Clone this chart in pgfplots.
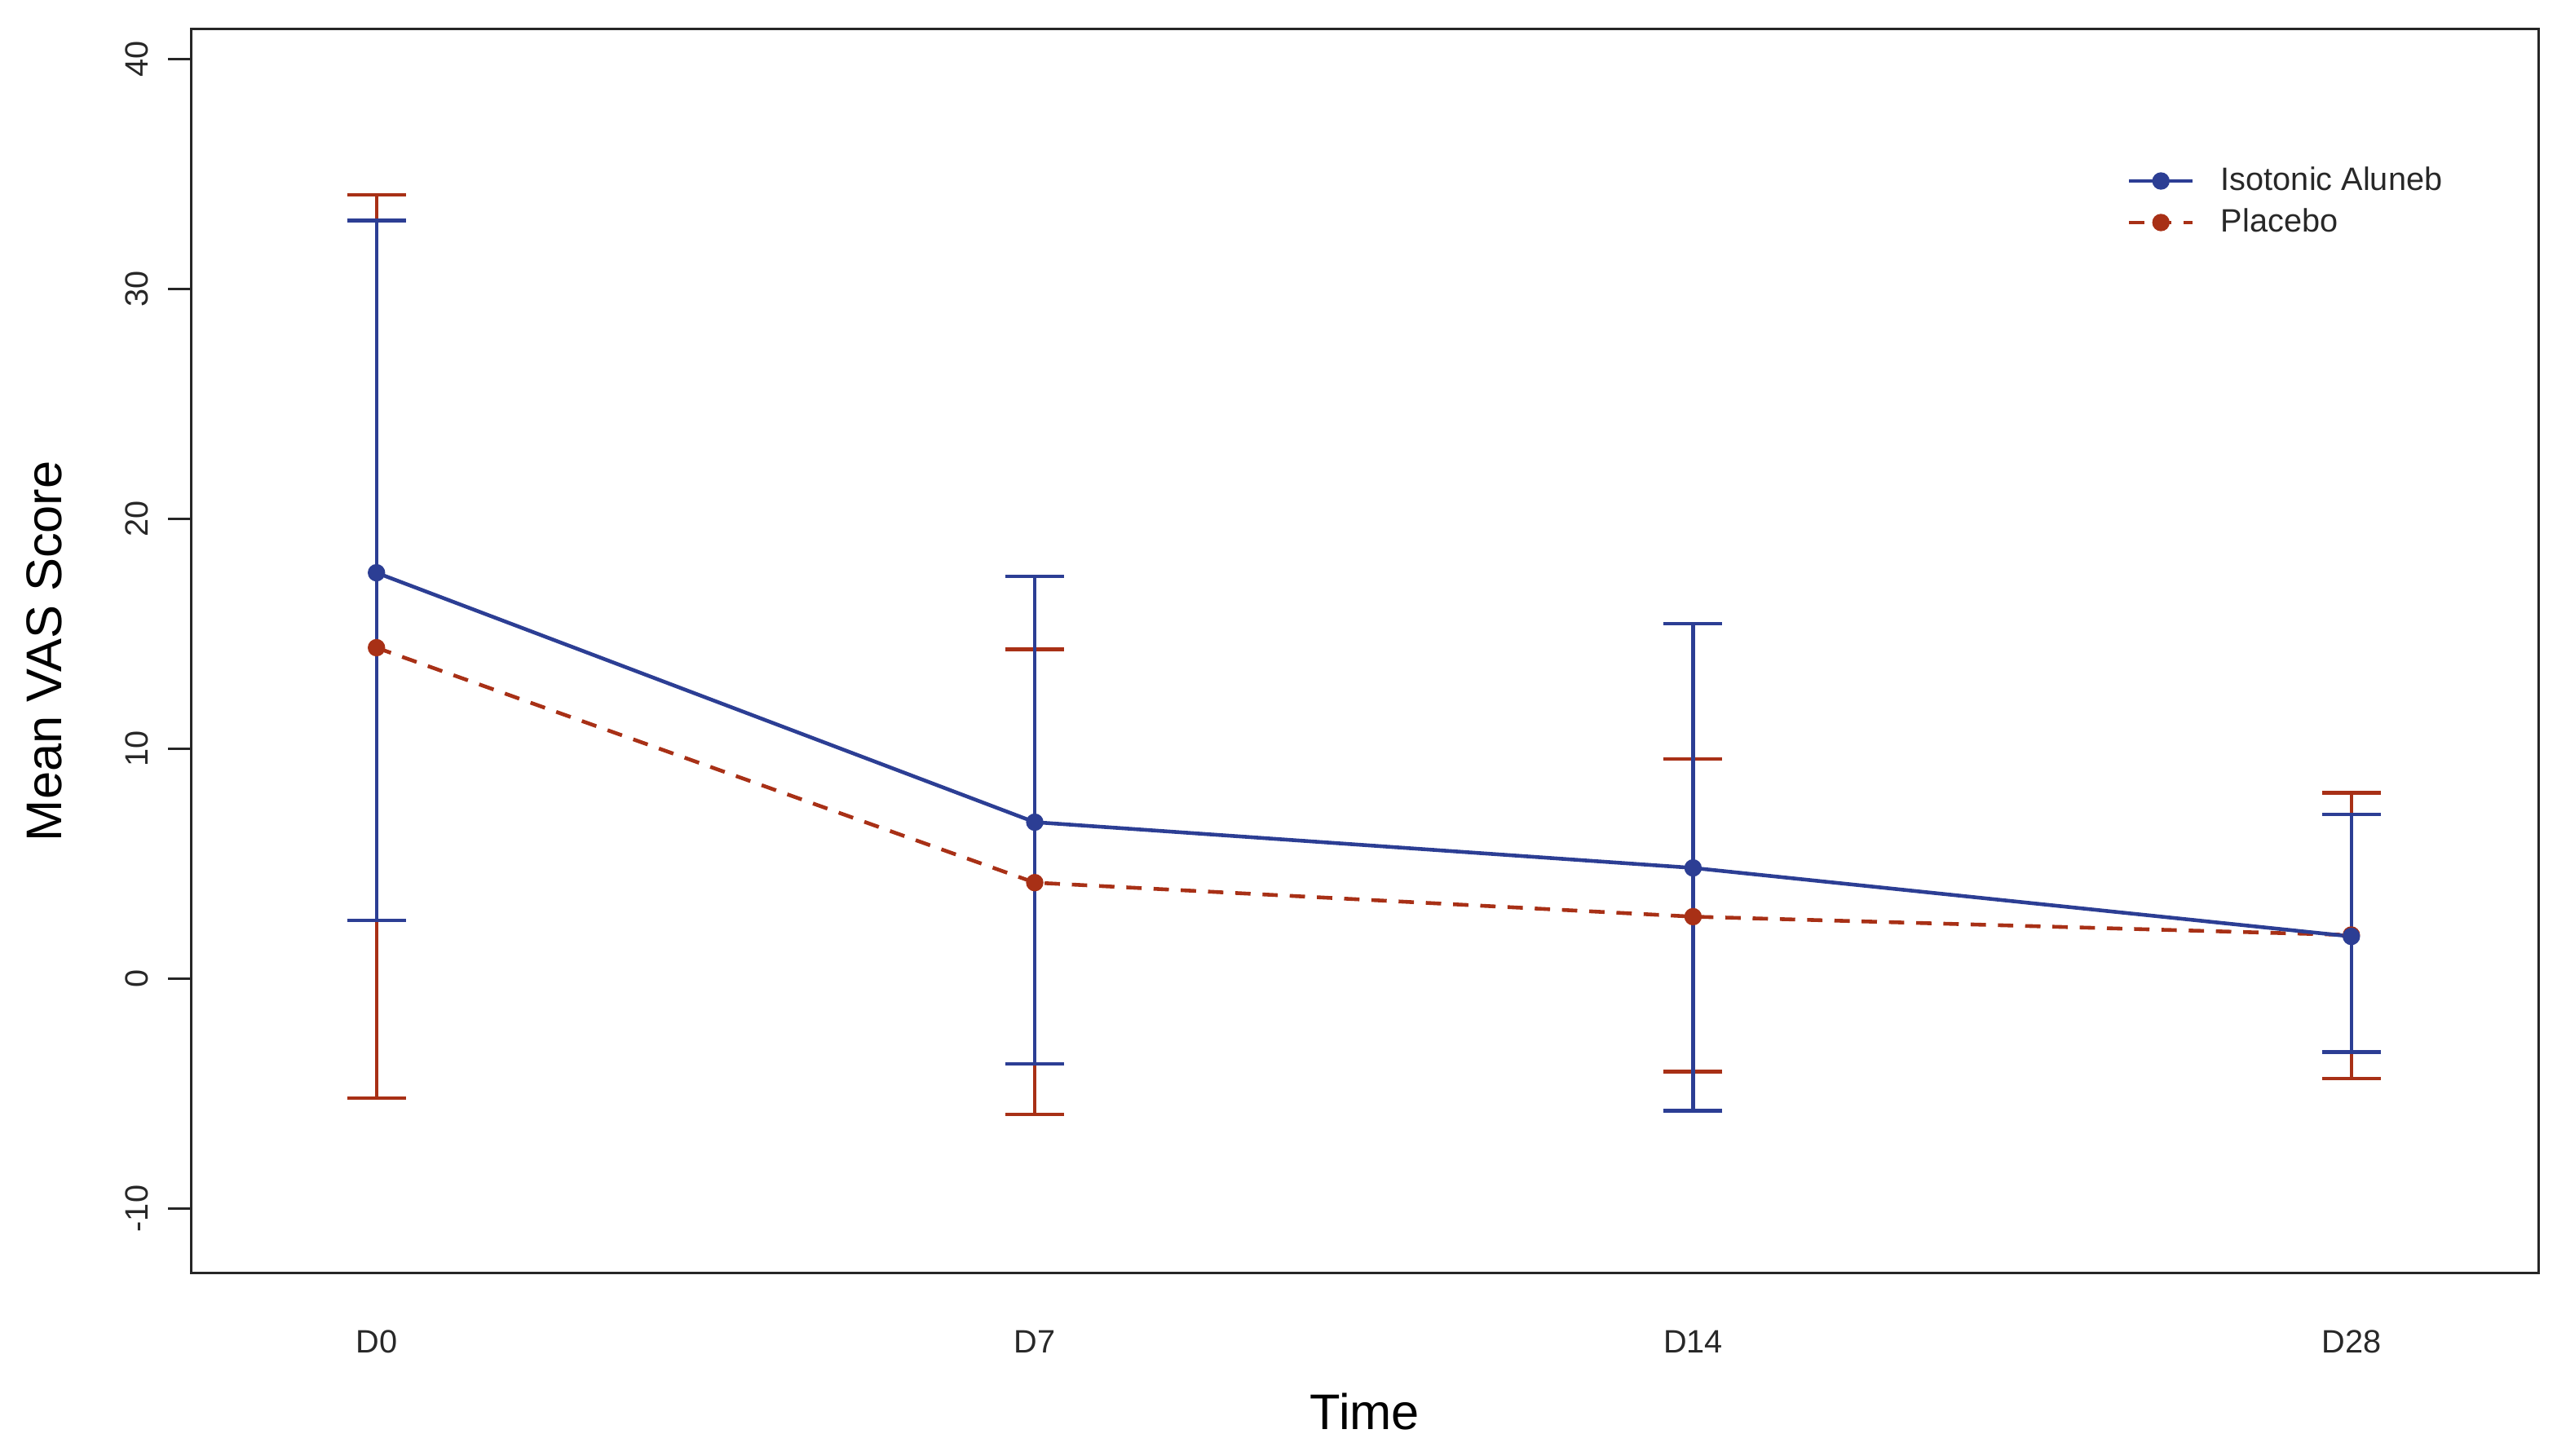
\documentclass[border=0pt]{standalone}
\usepackage{fontspec}
\setmainfont{Liberation Sans}
\usepackage{pgfplots}
\usepackage{pgfplotstable}
\pgfplotsset{compat=1.18}

\definecolor{isoblue}{RGB}{44,62,148}
\definecolor{plared}{RGB}{168,48,22}
\definecolor{txtgray}{RGB}{40,40,40}

% x, mean, error up, error down
\pgfplotstableread{
x y ep em
1 17.66 15.32 15.11
2 6.81 10.69 10.50
3 4.82 10.64 10.56
4 1.84 5.32 5.03
}\isotonic
\pgfplotstableread{
x y ep em
1 14.40 19.70 19.58
2 4.18 10.15 10.07
3 2.70 6.87 6.74
4 1.90 6.19 6.23
}\placebo

\begin{document}
\begin{tikzpicture}
\useasboundingbox (-56pt,-53.6pt) rectangle (694.3pt,373.6pt);
\begin{axis}[
  at={(0pt,0pt)}, anchor=south west,
  scale only axis,
  width=689pt, height=365pt,
  xmin=0.718, xmax=4.285,
  ymin=-12.8, ymax=41.3,
  xtick={1,2,3,4},
  xticklabels={D0,D7,D14,D28},
  ytick={-10,0,10,20,30,40},
  axis line style={line width=0.7pt, black!85},
  x tick style={draw=none},
  y tick style={line width=0.7pt, black!85},
  tick align=outside,
  ytick pos=left,
  major tick length=6.7pt,
  /pgf/number format/assume math mode=true,
  tick label style={font=\fontsize{9.5}{11}\selectfont, text=txtgray},
  xticklabel style={anchor=center, yshift=-13.4pt},
  yticklabel style={xshift=-9.1pt, rotate=90, anchor=center},
  xlabel={Time},
  ylabel={Mean VAS Score},
  label style={font=\fontsize{14.7}{17}\selectfont, text=black},
  xlabel style={at={(axis description cs:0.5,-0.1115)}, anchor=center},
  ylabel style={at={(axis description cs:-0.0625,0.5)}, anchor=center},
  reverse legend,
  legend cell align=left,
  legend style={draw=none, fill=none, at={(rel axis cs:0.820,0.901)}, anchor=north west,
    font=\fontsize{9.5}{11}\selectfont, text=txtgray, row sep=-0.2pt,
    column sep=5.7pt},
  legend image code/.code={\draw[mark repeat=2,mark phase=2] plot coordinates {(0pt,0pt)(9.35pt,0pt)(18.7pt,0pt)};},
]
\addplot[color=plared, line width=1.1pt, dash pattern=on 4.5pt off 3.5pt,
  mark=*, mark size=2pt, mark options={solid, fill=plared},
  error bars/.cd, y dir=both, y explicit, error mark=|,
  error bar style={line width=1pt, solid, color=plared},
  error mark options={mark size=8.6pt, line width=1pt, solid, color=plared}]
  table[x=x, y=y, y error plus=ep, y error minus=em] {\placebo};
\addlegendentry{Placebo}
\addplot[color=isoblue, line width=1.1pt, solid,
  mark=*, mark size=2pt, mark options={fill=isoblue},
  error bars/.cd, y dir=both, y explicit, error mark=|,
  error bar style={line width=1pt, color=isoblue},
  error mark options={mark size=8.6pt, line width=1pt, color=isoblue}]
  table[x=x, y=y, y error plus=ep, y error minus=em] {\isotonic};
\addlegendentry{Isotonic Aluneb}
\end{axis}
\end{tikzpicture}
\end{document}
